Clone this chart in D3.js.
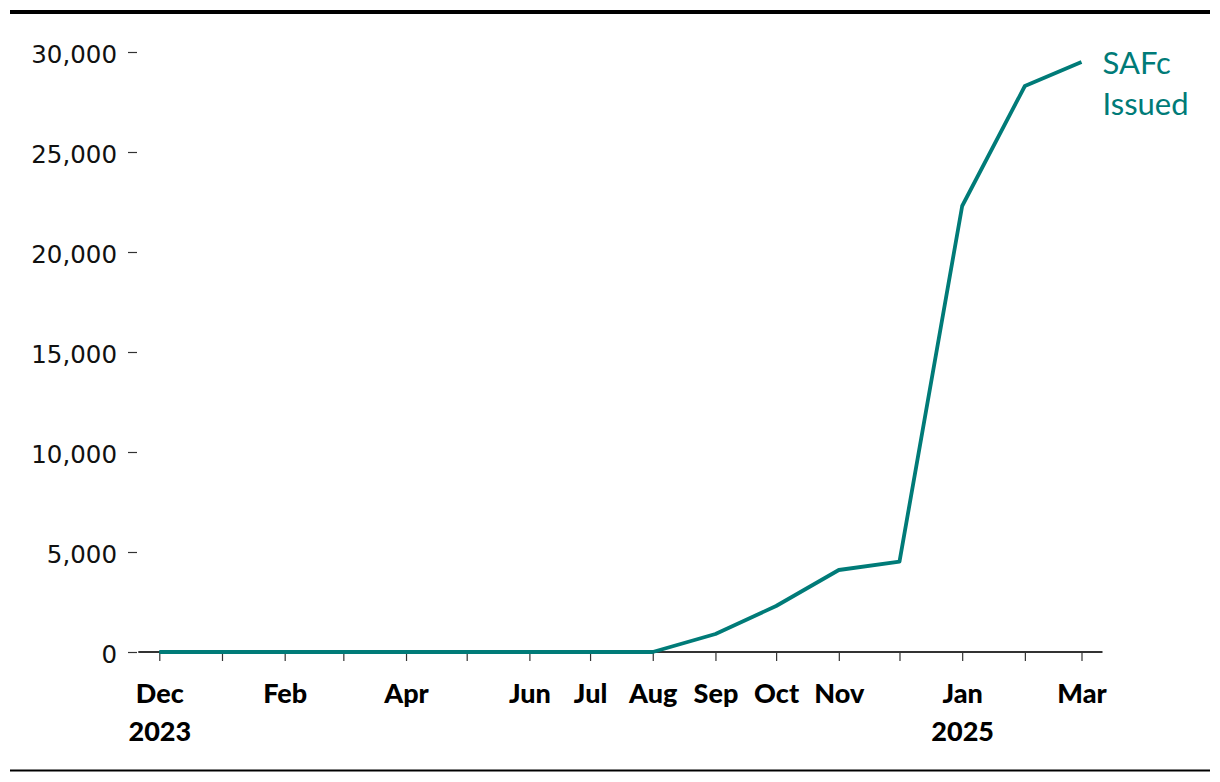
<!DOCTYPE html>
<html>
<head>
<meta charset="utf-8">
<script src="https://cdn.jsdelivr.net/npm/d3@7"></script>
<style>
  html, body { margin: 0; padding: 0; background: #fff; }
  svg { display: block; }
</style>
</head>
<body>
<svg id="chart" width="1220" height="782"></svg>
<script>
// ---- Data ----
const months = ["2023-12-01","2024-01-01","2024-02-01","2024-03-01","2024-04-01","2024-05-01",
                "2024-06-01","2024-07-01","2024-08-01","2024-09-01","2024-10-01","2024-11-01",
                "2024-12-01","2025-01-01","2025-02-01","2025-03-01"];
const safcIssued = [0,0,0,0,0,0,0,0,0,900,2300,4100,4520,22300,28300,29500];
const tickLabels = ["Dec\n2023","","Feb","","Apr","","Jun","Jul","Aug","Sep","Oct","Nov","","Jan\n2025","","Mar"];
const yTicks = [0,5000,10000,15000,20000,25000,30000];
const seriesName = ["SAFc","Issued"];

// ---- Setup ----
const teal = "#007b78";
const svg = d3.select("#chart");
const parse = d3.utcParse("%Y-%m-%d");
const dates = months.map(parse);

const x = d3.scaleUtc().domain(d3.extent(dates)).range([159.3, 1081.5]);
const y = d3.scaleLinear().domain([0, 30000]).range([652, 52]);

// top and bottom rules
svg.append("rect").attr("x", 10).attr("y", 10).attr("width", 1200).attr("height", 4).attr("fill", "#000");
svg.append("rect").attr("x", 10).attr("y", 769.5).attr("width", 1200).attr("height", 2).attr("fill", "#000");

// y axis
const yAxis = svg.append("g").attr("transform", "translate(137,0)")
  .call(d3.axisLeft(y).tickValues(yTicks).tickSize(9).tickPadding(11).tickFormat(d3.format(",")));
yAxis.select(".domain").remove();
yAxis.selectAll(".tick line").attr("stroke", "#333").attr("stroke-width", 1.2);
yAxis.selectAll(".tick text")
  .attr("font-family", "'DejaVu Sans', sans-serif")
  .attr("font-size", 24.5)
  .attr("fill", "#111")
  .attr("dy", "0.42em");

// x axis
const xAxis = svg.append("g").attr("transform", "translate(0,652)")
  .call(d3.axisBottom(x).tickValues(dates).tickSize(9).tickFormat(""));
xAxis.select(".domain").remove();
xAxis.selectAll(".tick line").attr("stroke", "#333").attr("stroke-width", 1.2);
svg.append("line")
  .attr("x1", x.range()[0] - 21).attr("x2", x.range()[1] + 21)
  .attr("y1", y(0)).attr("y2", y(0))
  .attr("stroke", "#333").attr("stroke-width", 2);

xAxis.selectAll(".tick").each(function(d, i) {
  const lines = tickLabels[i] ? tickLabels[i].split("\n") : [];
  const t = d3.select(this).append("text")
    .attr("text-anchor", "middle")
    .attr("font-family", "Lato, sans-serif")
    .attr("font-weight", 900)
    .attr("font-size", 27)
    .attr("fill", "#000");
  lines.forEach((s, k) => {
    t.append("tspan").attr("x", 0).attr("y", 51 + k * 38).text(s);
  });
});

// line
const line = d3.line().x((d, i) => x(dates[i])).y(d => y(d));
svg.append("path")
  .datum(safcIssued)
  .attr("d", line)
  .attr("fill", "none")
  .attr("stroke", teal)
  .attr("stroke-width", 3.8)
  .attr("stroke-linejoin", "round");

// series label
const last = dates.length - 1;
const lab = svg.append("text")
  .attr("font-family", "Lato, sans-serif")
  .attr("font-size", 31)
  .attr("fill", teal);
seriesName.forEach((s, k) => {
  lab.append("tspan").attr("x", x(dates[last]) + 21).attr("y", y(safcIssued[last]) + 12 + k * 41).text(s);
});
</script>
</body>
</html>
